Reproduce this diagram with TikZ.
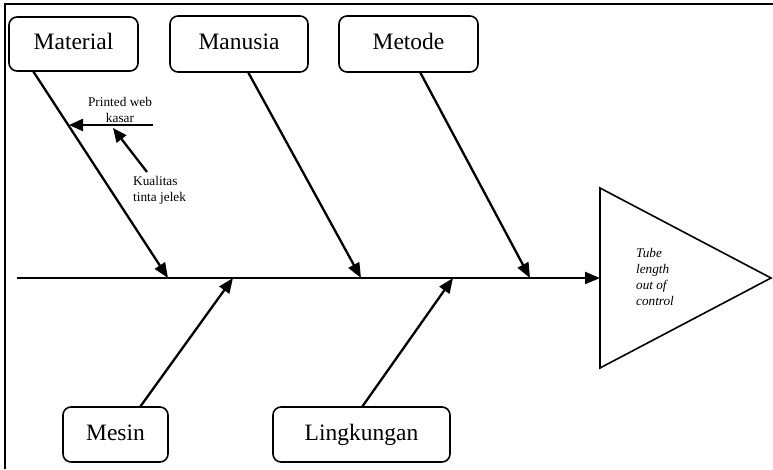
\documentclass[tikz,border=0pt]{standalone}
\usepackage{fontspec}
\setmainfont{Liberation Serif}
\usetikzlibrary{arrows.meta,calc}
\tikzset{
  catbox/.style={draw, line width=1.6pt, rounded corners=8pt, inner sep=0pt,
    text height=16pt, text depth=5pt,
    font=\fontsize{23.5}{28}\selectfont},
  bone/.style={line width=2.3pt, -{Triangle[length=15pt,width=12pt]}},
  subbone/.style={line width=2.3pt, -{Triangle[length=14pt,width=12pt]}},
  small/.style={font=\fontsize{13.3}{16}\selectfont, inner sep=0pt},
}
\begin{document}
\begin{tikzpicture}[x=1pt,y=-1pt]
\useasboundingbox (0,0) rectangle (773,469);
% frame
\draw[line width=2.6pt] (5,469) -- (5,4) -- (773,4);
% category boxes
\node[catbox, minimum width=129pt, minimum height=54pt] (mat) at (73.5,44) {Material};
\node[catbox, minimum width=138pt, minimum height=56pt] (man) at (239,44) {Manusia};
\node[catbox, minimum width=139pt, minimum height=56pt] (met) at (408.5,44) {Metode};
\node[catbox, minimum width=105pt, minimum height=55pt] (mes) at (115.5,434.5) {Mesin};
\node[catbox, minimum width=177pt, minimum height=55pt] (lin) at (361.5,434.5) {Lingkungan};
% effect triangle
\draw[line width=1.6pt] (600,188) -- (600,368) -- (771,278) -- cycle;
\coordinate (eff) at (600,278);
\node[font=\itshape\fontsize{13.2}{16.3}\selectfont, align=left, anchor=west, inner sep=0pt] (efftxt) at (636,277) {Tube\\length\\out of\\control};
% spine
\coordinate (tail) at (17,278);
\draw[bone] (tail) -- (eff);
% bone tips on spine
\coordinate (tmat) at (168,278);
\coordinate (tman) at (361,278);
\coordinate (tmet) at (530,278);
\coordinate (tmes) at (233,278);
\coordinate (tlin) at (453,278);
\coordinate (smat) at (33,71);
\coordinate (sman) at (248,72);
\coordinate (smet) at (420,72);
\coordinate (smes) at (140,407);
\coordinate (slin) at (362,407);
\draw[bone] (smat) -- (tmat);
\draw[bone] (sman) -- (tman);
\draw[bone] (smet) -- (tmet);
\draw[bone] (smes) -- (tmes);
\draw[bone] (slin) -- (tlin);
% sub causes
\coordinate (pwa) at (153,125);
\coordinate (pwb) at (69,125);
\draw[subbone] (pwa) -- (pwb);
\coordinate (kta) at (147,172);
\coordinate (ktb) at (113,128);
\draw[subbone] (kta) -- (ktb);
\node[small, align=center] (pw) at (120,110) {Printed web\\kasar};
\node[small, align=left, anchor=west] (kt) at (133,190) {Kualitas\\tinta jelek};
\end{tikzpicture}
\end{document}
